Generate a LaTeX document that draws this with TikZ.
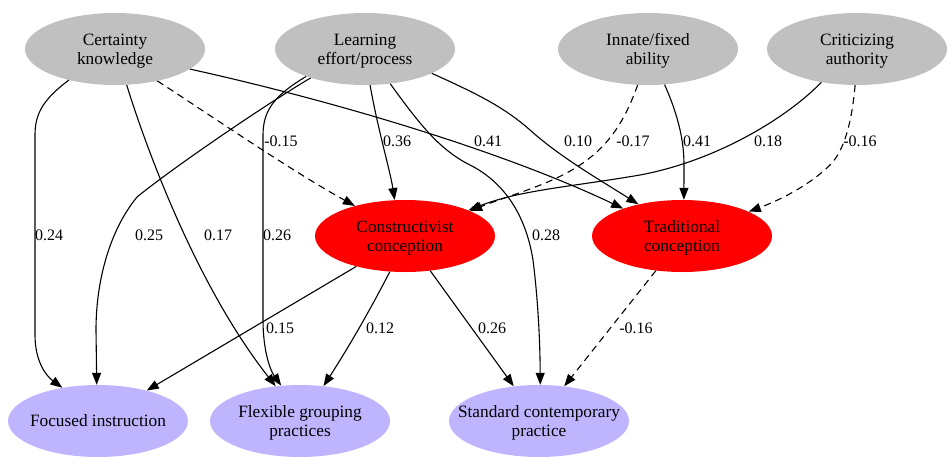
\documentclass[tikz,border=0pt]{standalone}
\usepackage{fontspec}
\setmainfont{Liberation Serif}
\usetikzlibrary{arrows.meta,shapes.geometric}
\definecolor{nodegray}{HTML}{C0C0C0}
\definecolor{lav}{HTML}{BFB5FF}
\newcommand{\ctxt}[1]{\makebox[0pt]{\raisebox{-2pt}[\height][\depth]{\begin{tabular}{@{}c@{}}#1\end{tabular}}}}
\begin{document}
\begin{tikzpicture}[x=1pt,y=-1pt,
  every node/.style={font=\fontsize{16}{18.5}\selectfont},
  nd/.style={ellipse, minimum width=180pt, minimum height=72pt, inner sep=0pt, draw=none, font=\fontsize{17.3}{18.8}\selectfont},
  grayn/.style={nd, fill=nodegray},
  redn/.style={nd, fill=red},
  lavn/.style={nd, fill=lav},
  edge/.style={line width=1.1pt, -{Triangle[length=12pt,width=9pt]}},
  dedge/.style={edge, dash pattern=on 7pt off 5pt},
  lbl/.style={inner sep=0pt}]
\useasboundingbox (0,0) rectangle (948,456);
% nodes
\node[grayn] (cert) at (115,49) {\ctxt{Certainty\\knowledge}};
\node[grayn] (learn) at (365,49) {\ctxt{Learning\\effort/process}};
\node[grayn] (innate) at (648,49) {\ctxt{Innate/fixed\\ability}};
\node[grayn] (crit) at (857,49) {\ctxt{Criticizing\\authority}};
\node[redn] (cons) at (405,236) {\ctxt{Constructivist\\conception}};
\node[redn] (trad) at (682,236) {\ctxt{Traditional\\conception}};
\node[lavn] (foc) at (98,421) {\ctxt{Focused instruction}};
\node[lavn] (flex) at (300,421) {\ctxt{Flexible grouping\\practices}};
\node[lavn] (std) at (539,421) {\ctxt{Standard contemporary\\practice}};
% edges
\draw[edge] (cert.214) .. controls (42,100) and (35,115) .. (35,135) -- (35,335) .. controls (35,360) and (45,375) .. (foc.137);
\draw[edge] (cert.288) .. controls (150,160) and (200,290) .. (flex.125);
\draw[dedge] (cert.323) .. controls (210,115) and (290,170) .. (cons.149);
\draw[edge] (cert.345) .. controls (330,100) and (500,150) .. (trad.155);
\draw[edge] (learn.208) .. controls (260,108) and (170,170) .. (137,197) .. controls (110,230) and (96,280) .. (96,330) -- (foc.92);
\draw[edge] (learn.205) .. controls (275,95) and (263,110) .. (263,135) -- (263,320) .. controls (263,350) and (270,370) .. (flex.118);
\draw[edge] (learn.278) .. controls (378,130) and (390,170) .. (cons.106);
\draw[edge] (learn.306) .. controls (420,125) and (440,150) .. (470,165) .. controls (500,180) and (525,210) .. (533,260) .. controls (538,300) and (540,340) .. (std.88);
\draw[edge] (learn.340) .. controls (480,95) and (505,108) .. (530,130) .. controls (560,157) and (600,180) .. (trad.144);
\draw[dedge] (innate.254) .. controls (625,120) and (610,145) .. (580,165) .. controls (550,185) and (510,195) .. (cons.21);
\draw[edge] (innate.295) .. controls (678,115) and (684,140) .. (684,165) -- (trad.87);
\draw[edge] (crit.223) .. controls (790,115) and (720,160) .. (640,175) .. controls (570,187) and (520,190) .. (cons.22);
\draw[dedge] (crit.267) .. controls (852,120) and (845,150) .. (830,165) .. controls (810,185) and (780,200) .. (trad.20);
\draw[edge] (cons.212) -- (foc.32);
\draw[edge] (cons.247) .. controls (370,310) and (350,345) .. (flex.56);
\draw[edge] (cons.306) -- (std.126);
\draw[dedge] (trad.233) -- (std.54);
% labels
\node[lbl] (l1) at (49,235) {0.24};
\node[lbl] (l2) at (218,235) {0.17};
\node[lbl] (l3) at (281,141) {-0.15};
\node[lbl] (l4) at (488,141) {0.41};
\node[lbl] (l5) at (149,235) {0.25};
\node[lbl] (l6) at (277,235) {0.26};
\node[lbl] (l7) at (397,141) {0.36};
\node[lbl] (l8) at (546,235) {0.28};
\node[lbl] (l9) at (578,141) {0.10};
\node[lbl] (l10) at (633,141) {-0.17};
\node[lbl] (l11) at (697,141) {0.41};
\node[lbl] (l12) at (768,141) {0.18};
\node[lbl] (l13) at (860,141) {-0.16};
\node[lbl] (l14) at (280,328) {0.15};
\node[lbl] (l15) at (380,328) {0.12};
\node[lbl] (l16) at (492,328) {0.26};
\node[lbl] (l17) at (636,328) {-0.16};
\end{tikzpicture}
\end{document}
